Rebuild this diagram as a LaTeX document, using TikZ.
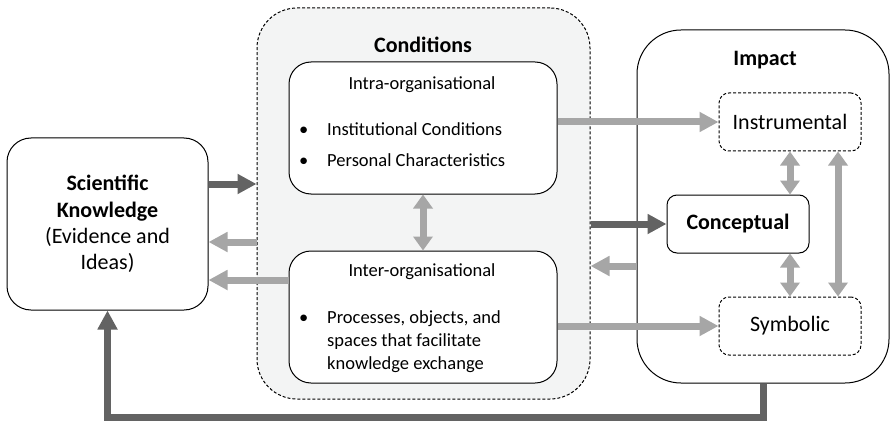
\documentclass[tikz,border=0pt]{standalone}
\usepackage{fontspec}
\setmainfont{Carlito}
\usepackage{tikz}
\usetikzlibrary{arrows.meta,
	positioning
}
\definecolor{arrowlight}{HTML}{A6A6A6}
\definecolor{arrowdark}{HTML}{636363}
\definecolor{condfill}{HTML}{F3F4F4}
\newcommand{\bigtxt}{\fontsize{22}{26.4}\selectfont}
\newcommand{\smalltxt}{\fontsize{18.5}{23}\selectfont}
\newcommand{\bitem}[1]{\makebox[28pt][l]{\textbullet}\parbox[t]{220pt}{\raggedright #1}}
\tikzset{KE/.style = {
		x=1pt, y=-1pt,
		box/.style = {rectangle, draw, line width=1pt, fill=white, rounded corners=##1},
		box/.default = 12pt,
		dashbox/.style = {box=##1, dash pattern=on 3pt off 2pt},
		dashbox/.default = 12pt,
		impactlabel/.style = {minimum width=142pt, minimum height=58pt, font=\bigtxt},
		title/.style = {font=\bigtxt\bfseries},
		listitem/.style = {anchor=base west, inner sep=0pt, font=\smalltxt, align=left},
		flow/.style = {line width=7pt, -{Triangle[length=19pt,width=19pt]}},
		twoway/.style = {line width=7pt, {Triangle[length=14pt,width=19pt]}-{Triangle[length=14pt,width=19pt]}},
		light/.style = {draw=arrowlight, color=arrowlight},
		dark/.style = {draw=arrowdark, color=arrowdark}
	}% end of KE style
}
\begin{document}
\begin{tikzpicture}[KE]
  \useasboundingbox (0,0) rectangle (890,422);

  % outer boxes
  \node[box=24pt, minimum width=201pt, minimum height=172pt, align=center, font=\bigtxt] (sk) at (107.5,224)
    {\textbf{Scientific}\\\textbf{Knowledge}\\(Evidence and\\Ideas)};
  \node[dashbox=40pt, fill=condfill, minimum width=333pt, minimum height=391pt] (cond) at (423.5,203.5) {};
  \node[title] (condtext) at (423,45) {Conditions};
  \node[box=44pt, minimum width=252pt, minimum height=353pt] (impact) at (763,206.5) {};
  \node[title] (impacttext) at (765,60) {Impact};

  % conditions
  \node[box=22pt, minimum width=268pt, minimum height=132pt] (intra) at (423,128) {};
  \node[font=\smalltxt] (intratext) at (422,85) {Intra-organisational};
  \node[listitem] (intra1) at (299,136) {\bitem{Institutional Conditions}};
  \node[listitem] (intra2) at (299,166) {\bitem{Personal Characteristics}};

  \node[box=22pt, minimum width=268pt, minimum height=132pt] (inter) at (423,317) {};
  \node[font=\smalltxt] (intertext) at (422,272) {Inter-organisational};
  \node[listitem] (inter1) at (299,323)
    {\bitem{Processes, objects, and\\spaces that facilitate\\knowledge exchange}};

  % impact
  \node[dashbox=10pt, impactlabel] (instr) at (790,122) {Instrumental};
  \node[box=10pt, impactlabel, font=\bigtxt\bfseries] (concept) at (738,224) {Conceptual};
  \node[dashbox=10pt, impactlabel] (symb) at (790,326) {Symbolic};

  % arrows
  \draw[flow,dark] ([yshift=40pt]sk.east) -- ([yshift=40pt]sk.east -| cond.west);
  \draw[flow,light] ([yshift=-18pt]sk.east -| cond.west) -- ([yshift=-18pt]sk.east);
  \draw[flow,light] ([yshift=37pt]inter.west) -- ([yshift=37pt]inter.west -| sk.east);
  \draw[twoway,light] (intra.south) -- (inter.north);

  \draw[flow,light] (intra.east |- instr.west) -- (instr.west);
  \draw[flow,dark] (cond.east |- concept.west) -- (concept.west);
  \draw[flow,light] ([yshift=-42pt]concept.west -| impact.west) -- ([yshift=-42pt]concept.west -| cond.east);
  \draw[flow,light] (inter.east |- symb.west) -- (symb.west);

  \draw[twoway,light] (instr.south) -- (instr.south |- concept.north);
  \draw[twoway,light] (symb.north |- concept.south) -- (symb.north);
  \draw[twoway,light] ([xshift=48pt]instr.south) -- ([xshift=48pt]symb.north);

  \draw[flow,dark] (impact.south) -- ++(0,34) -| (sk.south);
\end{tikzpicture}
\end{document}
